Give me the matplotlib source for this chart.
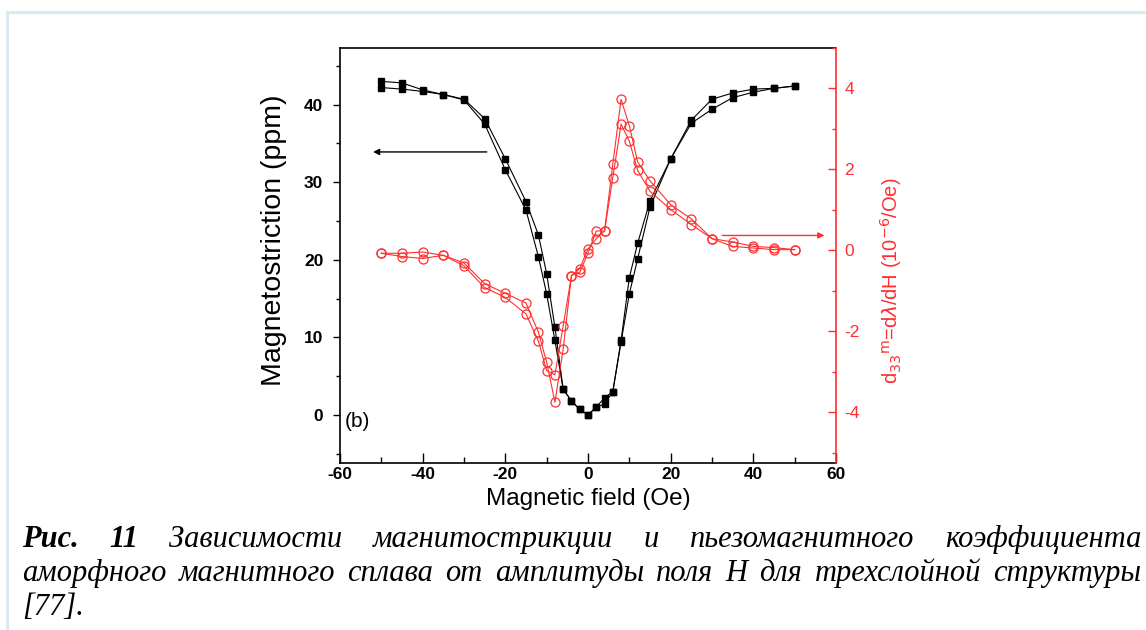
import matplotlib
matplotlib.use("Agg")
import matplotlib.pyplot as plt
from matplotlib.ticker import MultipleLocator, FixedLocator
from matplotlib.lines import Line2D

plt.rcParams["axes.unicode_minus"] = False

# Magnetic field sweep points (Oe)
field = [-50, -45, -40, -35, -30, -25, -20, -15, -12, -10, -8, -6, -4, -2, 0,
         2, 4, 6, 8, 10, 12, 15, 20, 25, 30, 35, 40, 45, 50]

# Magnetostriction (ppm), two sweep directions
lam_up = [43.0, 42.8, 41.9, 41.3, 40.7, 38.2, 33.0, 27.5, 23.2, 18.2, 11.3, 3.3, 1.8, 0.7, 0.0,
          1.0, 2.2, 3.0, 9.6, 17.7, 22.1, 27.6, 33.0, 38.0, 40.7, 41.5, 42.0, 42.1, 42.4]
lam_down = [42.2, 42.0, 41.7, 41.3, 40.6, 37.5, 31.6, 26.4, 20.4, 15.6, 9.6, 3.3, 1.8, 0.7, 0.0,
            1.0, 1.4, 3.0, 9.4, 15.6, 20.1, 26.8, 33.0, 37.6, 39.4, 40.9, 41.6, 42.1, 42.4]

# Piezomagnetic coefficient d33 (1e-6 / Oe), two sweep directions
d33_up = [-0.07, -0.07, -0.04, -0.12, -0.31, -0.82, -1.06, -1.30, -2.02, -2.76, -3.75, -2.43, -0.62,
          -0.45, 0.04, 0.29, 0.48, 2.13, 3.73, 3.08, 2.19, 1.72, 1.13, 0.78, 0.29, 0.21, 0.10, 0.07, 0.02]
d33_down = [-0.07, -0.15, -0.20, -0.12, -0.38, -0.92, -1.16, -1.57, -2.24, -2.97, -3.07, -1.86, -0.62,
            -0.54, -0.07, 0.48, 0.48, 1.80, 3.12, 2.70, 1.98, 1.46, 1.01, 0.64, 0.29, 0.10, 0.06, 0.02, 0.02]

x_ticks = [-60, -40, -20, 0, 20, 40, 60]
lam_ticks = [0, 10, 20, 30, 40]
d33_ticks = [-4, -2, 0, 2, 4]

caption_lines = [
    [("Рис.", "bold"), ("11", "bold"), ("Зависимости", "normal"), ("магнитострикции", "normal"),
     ("и", "normal"), ("пьезомагнитного", "normal"), ("коэффициента", "normal")],
    [(w, "normal") for w in "аморфного магнитного сплава от амплитуды поля H для трехслойной структуры".split()],
    [("[77].", "normal")],
]

RED = "#ff2f2f"
SANS = "Liberation Sans"
SERIF = "Liberation Serif"
W, H = 1146, 630

fig = plt.figure(figsize=(W / 100, H / 100), dpi=100)
fig.patch.set_facecolor("white")

ax = fig.add_axes([340 / W, 1 - 463 / H, 496 / W, 415 / H])
ax2 = ax.twinx()

for series in (lam_up, lam_down):
    ax.plot(field, series, color="black", lw=0.8, marker="s", ms=5,
            mfc="black", mec="black", zorder=3)
for series in (d33_up, d33_down):
    ax2.plot(field, series, color=RED, lw=0.8, marker="o", ms=6.5,
             mfc="none", mec=RED, mew=0.9, zorder=3)

ax.set_xlim(-60, 60)
ax.set_ylim(-6.2, 47.3)
ax2.set_ylim(-5.25, 5.0)

ax.xaxis.set_major_locator(FixedLocator(x_ticks))
ax.xaxis.set_minor_locator(MultipleLocator(10))
ax.yaxis.set_major_locator(FixedLocator(lam_ticks))
ax.yaxis.set_minor_locator(MultipleLocator(5))
ax2.yaxis.set_major_locator(FixedLocator(d33_ticks))
ax2.yaxis.set_minor_locator(MultipleLocator(1))

ax.tick_params(axis="x", which="major", direction="in", length=7, width=1, top=False, pad=3)
ax.tick_params(axis="x", which="minor", direction="in", length=4, width=1, top=False)
ax.tick_params(axis="y", which="major", direction="out", length=5, width=1, right=False, pad=7)
ax.tick_params(axis="y", which="minor", direction="out", length=3, width=1, right=False)
ax2.tick_params(axis="y", which="major", direction="in", length=6, width=1, color=RED,
                labelcolor=RED, pad=6)
ax2.tick_params(axis="y", which="minor", direction="in", length=3, width=1, color=RED)

for lbl in ax.get_xticklabels() + ax.get_yticklabels():
    lbl.set_fontfamily(SANS)
    lbl.set_fontsize(12.5)
    lbl.set_fontweight("bold")
for lbl in ax2.get_yticklabels():
    lbl.set_fontfamily(SANS)
    lbl.set_fontsize(12.5)

for side in ("left", "bottom", "top"):
    ax.spines[side].set_linewidth(1.2)
ax.spines["right"].set_visible(False)
for side in ("left", "bottom", "top"):
    ax2.spines[side].set_visible(False)
ax2.spines["right"].set_color(RED)
ax2.spines["right"].set_linewidth(1.2)

ax.set_xlabel("Magnetic field (Oe)", fontsize=17.5, family=SANS, labelpad=4)
ax.set_ylabel("Magnetostriction (ppm)", fontsize=20.5, family=SANS)
ax.yaxis.set_label_coords(-0.107, 0.537)
ax2.set_ylabel(r"d$_{33}$$^{\mathrm{m}}$=d$\lambda$/dH (10$^{-6}$/Oe)", fontsize=14.5,
               family=SANS, color=RED)
ax2.yaxis.set_label_coords(1.085, 0.44)

# Direction arrows pointing to each curve's axis
BLACK_ARROW = ((-24.5, 33.9), (-52.0, 33.9))
RED_ARROW = ((32.5, 0.37), (57.2, 0.37))
ax.annotate("", xy=BLACK_ARROW[1], xytext=BLACK_ARROW[0],
            arrowprops=dict(arrowstyle="-|>", color="black", lw=1.0,
                            mutation_scale=9, shrinkA=0, shrinkB=0))
ax2.annotate("", xy=RED_ARROW[1], xytext=RED_ARROW[0],
             arrowprops=dict(arrowstyle="-|>", color=RED, lw=1.0,
                             mutation_scale=9, shrinkA=0, shrinkB=0))

ax.text(-58.8, -0.8, "(b)", fontsize=15, family=SANS, va="center", ha="left")

# Page frame
frame = "#d8ebf3"
fig.add_artist(Line2D([7 / W, 7 / W], [0, 1 - 12 / H], color=frame, lw=2.2,
                      transform=fig.transFigure))
fig.add_artist(Line2D([7 / W, 1], [1 - 12 / H, 1 - 12 / H], color=frame, lw=2.2,
                      transform=fig.transFigure))

# Justified italic caption
CAP_FS = 22
x0, x1 = 22, 1141
baselines = [547, 581, 615]
renderer = fig.canvas.get_renderer()
for i, (words, yb) in enumerate(zip(caption_lines, baselines)):
    texts, widths = [], []
    for w, weight in words:
        t = fig.text(0, 1 - yb / H, w, fontsize=CAP_FS, family=SERIF, style="italic",
                     weight=weight, va="baseline", ha="left")
        widths.append(t.get_window_extent(renderer).width)
        texts.append(t)
    if len(words) > 1 and i < len(caption_lines) - 1:
        gap = (x1 - x0 - sum(widths)) / (len(words) - 1)
    else:
        gap = 6
    x = x0
    for t, wd in zip(texts, widths):
        t.set_x(x / W)
        x += wd + gap

fig.savefig("out.png", dpi=100, facecolor="white")
